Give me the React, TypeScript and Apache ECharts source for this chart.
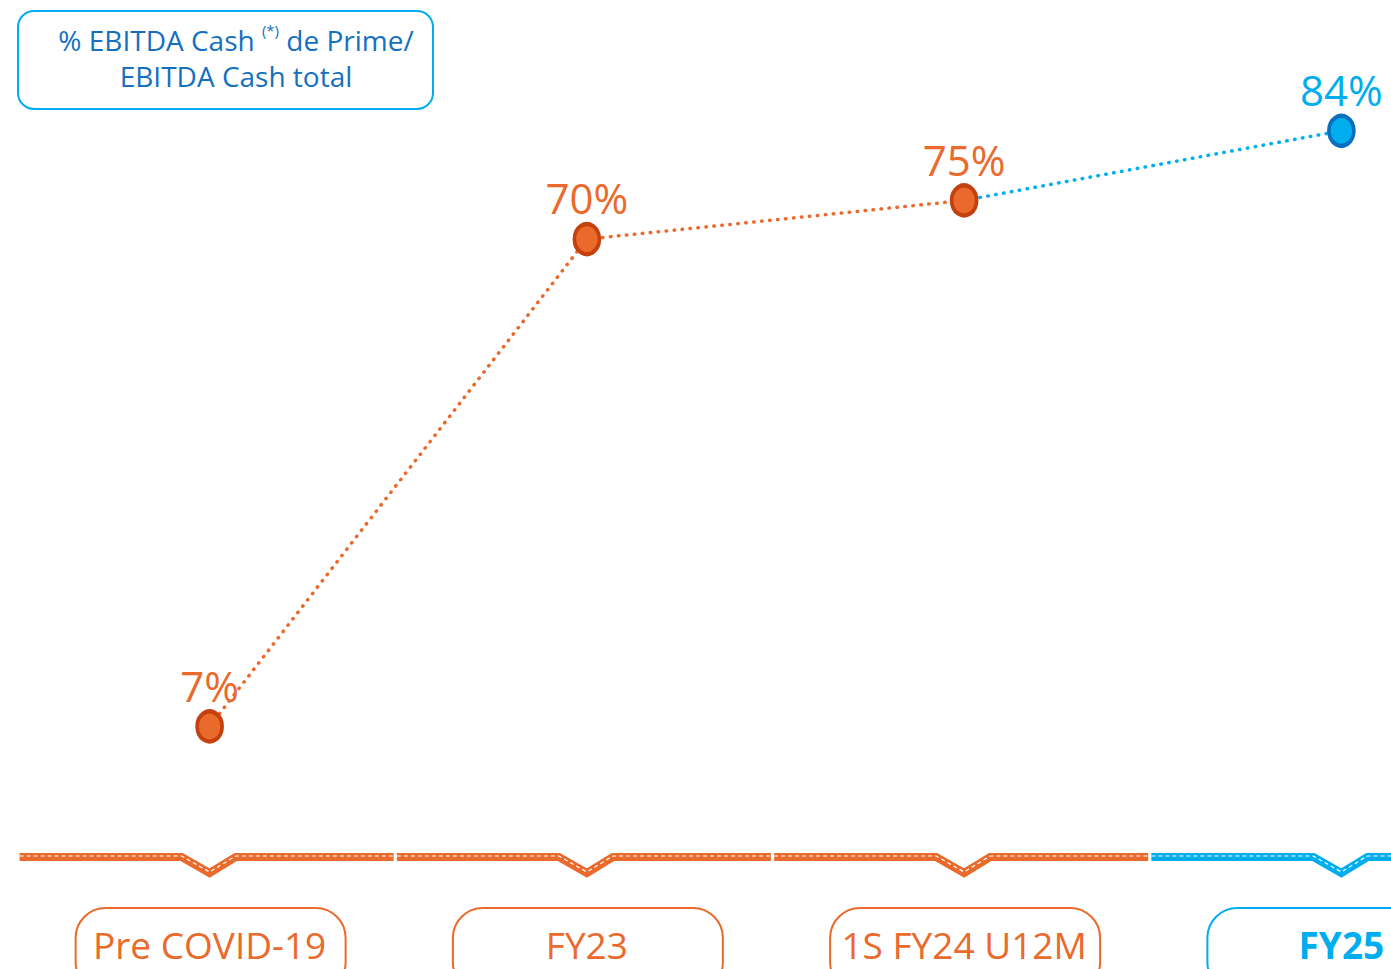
import React, { useEffect, useRef } from "react";
import * as echarts from "echarts";

const categories = ["Pre COVID-19", "FY23", "1S FY24 U12M", "FY25"];
const values = [7, 70, 75, 84];
const highlightIndex = 3;

const ORANGE = "#ea6a2b";
const ORANGE_DARK = "#c4410f";
const BLUE = "#00aeef";
const BLUE_DARK = "#0a6fbf";
const TITLE_BLUE = "#1570c0";
const FONT = "'Open Sans', 'Noto Sans', sans-serif";

export default function App() {
  const ref = useRef<HTMLDivElement>(null);
  useEffect(() => {
    document.body.style.margin = "0";
    const chart = echarts.init(ref.current!, null, { renderer: "svg" });

    const orangeData = values.map((v, i) => (i < highlightIndex ? v : "-"));
    const blueData = values.map((v, i) =>
      i === highlightIndex
        ? { value: v }
        : i === highlightIndex - 1
        ? { value: v, symbol: "none", label: { show: false } }
        : "-"
    );

    const pointLabel = (color: string) => ({
      show: true,
      position: "top",
      distance: 3,
      formatter: "{c}%",
      color,
      fontSize: 42,
      fontFamily: FONT,
    });

    const option: any = {
      animation: false,
      grid: {
        left: 21,
        width: 1509,
        top: 7,
        bottom: 111,
        containLabel: false,
        outerBoundsMode: "none",
      },
      xAxis: {
        type: "category",
        data: categories,
        boundaryGap: true,
        axisLine: { show: false },
        axisTick: { show: false },
        splitLine: { show: false },
        axisLabel: {
          interval: 0,
          margin: 68,
          formatter: (v: string, i: number) =>
            i === highlightIndex ? `{b|${v}}` : `{o|${v}}`,
          rich: {
            o: {
              color: ORANGE,
              fontSize: 37,
              fontFamily: FONT,
              lineHeight: 36,
            },
            b: {
              color: BLUE,
              fontSize: 37,
              fontWeight: "bold",
              fontFamily: FONT,
              lineHeight: 36,
            },
          },
        },
      },
      yAxis: {
        type: "value",
        min: -10,
        max: 100,
        show: false,
        splitLine: { show: false },
      },
      series: [
        {
          type: "custom",
          silent: true,
          clip: false,
          data: categories.map((_, i) => [i, 0]),
          encode: { x: 0, y: 1 },
          renderItem: (params: any, api: any) => {
            const idx = api.value(0);
            const pt = api.coord([idx, 0]);
            const cx = pt[0];
            const y = params.coordSys.y + params.coordSys.height - 1;
            const color = idx === highlightIndex ? BLUE : ORANGE;
            const pts = [
              [cx - 190, y],
              [cx - 28, y],
              [cx, y + 16],
              [cx + 26, y],
              [cx + 184, y],
            ];
            return {
              type: "group",
              children: [
                {
                  type: "polyline",
                  shape: { points: pts },
                  style: { stroke: color, lineWidth: 8, fill: null, lineJoin: "miter" },
                },
                {
                  type: "polyline",
                  shape: { points: pts.map((p) => [p[0], p[1] - 1]) },
                  style: {
                    stroke: "#ffffff",
                    lineWidth: 1.2,
                    fill: null,
                    lineDash: [4, 3],
                  },
                },
                {
                  type: "rect",
                  shape: { x: cx - 134, y: y + 51, width: 270, height: 84, r: 30 },
                  style: { stroke: color, lineWidth: 2, fill: null },
                },
              ],
            };
          },
          z: 1,
        },
        {
          type: "line",
          data: orangeData,
          symbol: "circle",
          symbolSize: [25, 30],
          lineStyle: { color: ORANGE, width: 3.5, type: [0.5, 7.5], cap: "round" },
          itemStyle: { color: ORANGE, borderColor: ORANGE_DARK, borderWidth: 4 },
          label: pointLabel(ORANGE),
          z: 3,
        },
        {
          type: "line",
          data: blueData,
          symbol: "circle",
          symbolSize: [25, 30],
          lineStyle: { color: BLUE, width: 3.5, type: [0.5, 7.5], cap: "round" },
          itemStyle: { color: BLUE, borderColor: BLUE_DARK, borderWidth: 4 },
          label: pointLabel(BLUE),
          z: 2,
        },
      ],
      graphic: [
        {
          type: "rect",
          shape: { x: 18, y: 11, width: 415, height: 98, r: 16 },
          style: { fill: "none", stroke: BLUE, lineWidth: 2 },
        },
        {
          type: "text",
          x: 236,
          y: 58,
          style: {
            text: "{a|% EBITDA Cash }{s|(*)}{a| de Prime/}\n{a|EBITDA Cash total}",
            align: "center",
            verticalAlign: "middle",
            rich: {
              a: { fontSize: 28, fontFamily: FONT, fill: TITLE_BLUE, lineHeight: 36 },
              s: {
                fontSize: 15,
                fontFamily: FONT,
                fill: TITLE_BLUE,
                lineHeight: 36,
                verticalAlign: "top",
                padding: [0, 0, 12, 0],
              },
            },
          },
        },
      ],
    };
    chart.setOption(option);
    return () => chart.dispose();
  }, []);
  return (
    <div
      ref={ref}
      style={{ position: "absolute", left: 0, top: 0, width: 1391, height: 969 }}
    />
  );
}
